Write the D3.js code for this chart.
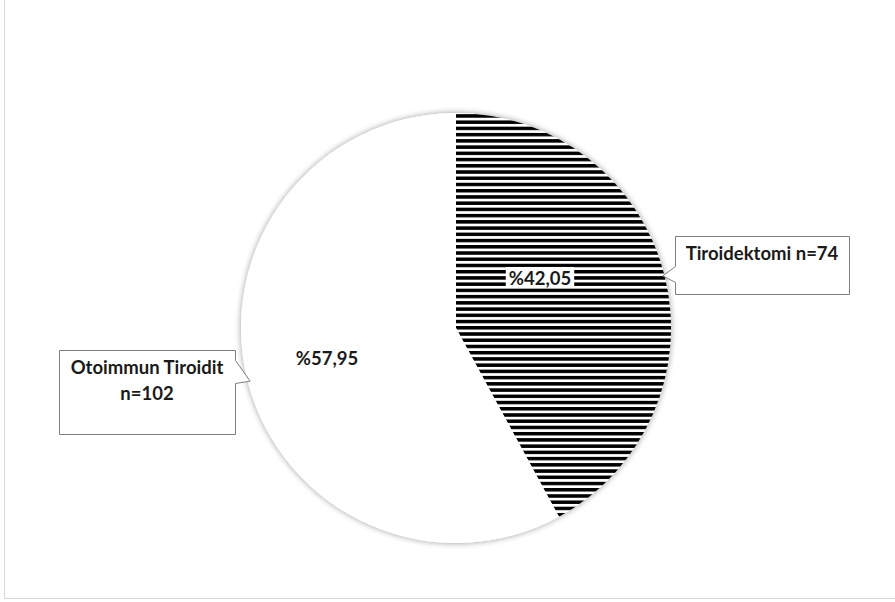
<!DOCTYPE html>
<html>
<head>
<meta charset="utf-8">
<script src="https://cdn.jsdelivr.net/npm/d3@7"></script>
<style>
  html, body { margin: 0; padding: 0; background: #fff; }
  svg { display: block; }
  text { font-family: Lato, "Open Sans", sans-serif; font-weight: 700; }
</style>
</head>
<body>
<svg id="chart" width="895" height="602"></svg>
<script>
// Group names, patient counts and share of the total (%)
const categories = ["Tiroidektomi", "Otoimmun Tiroidit"];
const counts = [74, 102];
const percents = [42.05, 57.95];
const percentLabels = ["%42,05", "%57,95"];
const calloutLines = [["Tiroidektomi n=74"], ["Otoimmun Tiroidit", "n=102"]];

const svg = d3.select("#chart");
const cx = 456, cy = 328, R = 215;
const fontSize = 18.5;

// chart area frame
svg.append("rect")
  .attr("x", 4.5).attr("y", -5).attr("width", 900).attr("height", 603.5)
  .attr("fill", "#fff").attr("stroke", "#d9d9d9").attr("stroke-width", 1);

const defs = svg.append("defs");

// horizontal stripe fill
const pat = defs.append("pattern")
  .attr("id", "stripes")
  .attr("patternUnits", "userSpaceOnUse")
  .attr("width", 20).attr("height", 6.23)
  .attr("y", -213.8);
pat.append("rect").attr("width", 20).attr("height", 6.23).attr("fill", "#fff");
pat.append("rect").attr("width", 20).attr("height", 3.5).attr("fill", "#000");

// soft shadow around the pie
const f = defs.append("filter").attr("id", "pieShadow")
  .attr("x", "-10%").attr("y", "-10%").attr("width", "120%").attr("height", "120%");
f.append("feGaussianBlur").attr("in", "SourceAlpha").attr("stdDeviation", 3).attr("result", "b");
f.append("feOffset").attr("in", "b").attr("dx", 0).attr("dy", 0).attr("result", "o");
f.append("feComponentTransfer").attr("in", "o").attr("result", "s")
  .append("feFuncA").attr("type", "linear").attr("slope", 0.4);
const m = f.append("feMerge");
m.append("feMergeNode").attr("in", "s");
m.append("feMergeNode").attr("in", "SourceGraphic");

const fills = ["url(#stripes)", "#fff"];

const pie = d3.pie().sort(null).value(d => d);
const arcs = pie(percents);
const arc = d3.arc().innerRadius(0).outerRadius(R);

const g = svg.append("g").attr("transform", `translate(${cx},${cy})`);
const slices = g.append("g").attr("filter", "url(#pieShadow)");
slices.selectAll("path")
  .data(arcs)
  .join("path")
  .attr("d", arc)
  .attr("fill", (d, i) => fills[i]);

// percentage labels inside the slices
const labelPos = [[84, -50.5], [-129, 30]];
arcs.forEach((a, i) => {
  const [lx, ly] = labelPos[i];
  const t = g.append("text")
    .attr("x", lx).attr("y", ly)
    .attr("text-anchor", "middle")
    .attr("dominant-baseline", "central")
    .attr("font-size", fontSize)
    .attr("fill", "#1a1a1a")
    .text(percentLabels[i]);
  if (i === 0) {
    const bb = t.node().getBBox();
    g.insert("rect", "text")
      .attr("x", bb.x - 3).attr("y", ly - 10.5)
      .attr("width", bb.width + 6).attr("height", 21)
      .attr("fill", "#fff");
  }
});

// callout boxes with pointers to the slice edges
const boxes = [
  { x: 675, y: 236, w: 174, h: 58, side: "left", p1: 266, p2: 282 },
  { x: 59, y: 350, w: 176, h: 84, side: "right", p1: 360, p2: 383 }
];

boxes.forEach((b, i) => {
  const a = (arcs[i].startAngle + arcs[i].endAngle) / 2;
  const tx = cx + Math.sin(a) * (R - 2);
  const ty = cy - Math.cos(a) * (R - 2);
  let p;
  if (b.side === "left") {
    p = `M${b.x},${b.y} H${b.x + b.w} V${b.y + b.h} H${b.x} V${b.p2} L${tx},${ty} L${b.x},${b.p1} Z`;
  } else {
    p = `M${b.x},${b.y} H${b.x + b.w} V${b.p1} L${tx},${ty} L${b.x + b.w},${b.p2} V${b.y + b.h} H${b.x} Z`;
  }
  svg.append("path")
    .attr("d", p)
    .attr("transform", "translate(0.5,0.5)")
    .attr("fill", "#fff")
    .attr("stroke", "#7f7f7f")
    .attr("stroke-width", 1);
  const lines = calloutLines[i];
  lines.forEach((ln, k) => {
    svg.append("text")
      .attr("x", b.x + b.w / 2)
      .attr("y", b.y + 24 + k * 26)
      .attr("text-anchor", "middle")
      .attr("font-size", fontSize)
      .attr("fill", "#1a1a1a")
      .text(ln);
  });
});
</script>
</body>
</html>
